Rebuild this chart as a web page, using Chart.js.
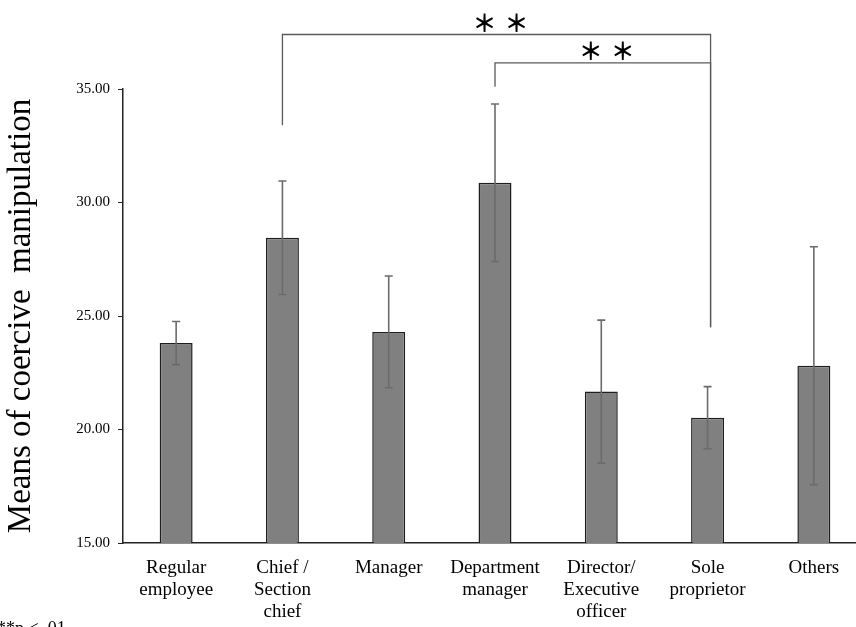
<!DOCTYPE html>
<html>
<head>
<meta charset="utf-8">
<script src="https://cdn.jsdelivr.net/npm/chart.js@4/dist/chart.umd.min.js"></script>
<style>
  html, body { margin: 0; padding: 0; background: #fff; overflow: hidden; }
  #wrap { width: 870px; height: 627px; position: relative; }
</style>
</head>
<body>
<div id="wrap"><canvas id="c" width="870" height="627"></canvas></div>
<script>
// Job position categories (multi-line axis labels)
const categories = [
  ["Regular", "employee"],
  ["Chief /", "Section", "chief"],
  ["Manager"],
  ["Department", "manager"],
  ["Director/", "Executive", "officer"],
  ["Sole", "proprietor"],
  ["Others"]
];
// Mean score of coercive manipulation per category
const means = [23.81, 28.45, 24.30, 30.87, 21.67, 20.52, 22.81];
// Standard deviation shown as error bars
const sds = [0.95, 2.50, 2.46, 3.47, 3.15, 1.37, 5.24];
// Y axis range and tick step
const yMin = 15, yMax = 35, yStep = 5;
// Significance brackets: from category, to category, bracket level,
// lower end of each leg (in axis units) and the significance mark
const bracketFrom = [1, 3];
const bracketTo = [5, 5];
const bracketLevel = [37.4, 36.15];
const bracketFromEnd = [33.4, 35.1];
const bracketToEnd = [24.5, 24.5];
const bracketMark = ["＊", "＊"];
const footnote = "**p < .01";

const SERIF = '"Liberation Serif", "Times New Roman", serif';

const errorBars = {
  id: 'errorBars',
  afterDatasetsDraw(chart) {
    const { ctx, scales: { x, y } } = chart;
    ctx.save();
    ctx.strokeStyle = '#6b6b6b';
    ctx.lineWidth = 1.6;
    means.forEach((m, i) => {
      const cx = x.getPixelForValue(i);
      const top = y.getPixelForValue(m + sds[i]);
      const bot = y.getPixelForValue(m - sds[i]);
      ctx.beginPath();
      ctx.moveTo(cx, top); ctx.lineTo(cx, bot);
      ctx.moveTo(cx - 4, top); ctx.lineTo(cx + 4, top);
      ctx.moveTo(cx - 4, bot); ctx.lineTo(cx + 4, bot);
      ctx.stroke();
    });
    ctx.restore();
  }
};

const brackets = {
  id: 'brackets',
  afterDraw(chart) {
    const { ctx, scales: { x, y } } = chart;
    ctx.save();
    ctx.strokeStyle = '#5a5a5a';
    ctx.lineWidth = 1.3;
    bracketFrom.forEach((f, k) => {
      const x1 = x.getPixelForValue(f);
      const x2 = x.getPixelForValue(bracketTo[k]) + 3;
      const yl = y.getPixelForValue(bracketLevel[k]);
      const y1 = y.getPixelForValue(bracketFromEnd[k]);
      const y2 = y.getPixelForValue(bracketToEnd[k]);
      ctx.beginPath();
      ctx.moveTo(x1, y1); ctx.lineTo(x1, yl); ctx.lineTo(x2, yl); ctx.lineTo(x2, y2);
      ctx.stroke();
      // significance mark: two stars above the bracket
      const mid = (x1 + x2) / 2 + 4;
      ctx.fillStyle = '#000';
      ctx.font = 'bold 24px "Noto Sans CJK JP", sans-serif';
      ctx.textAlign = 'center';
      ctx.textBaseline = 'middle';
      ctx.fillText(bracketMark[k], mid - 16, yl - 12);
      ctx.fillText(bracketMark[k], mid + 16, yl - 12);
    });
    // footnote at the lower left
    ctx.font = '18px ' + SERIF;
    ctx.textAlign = 'left';
    ctx.textBaseline = 'alphabetic';
    ctx.fillText(footnote, -3, 634);
    ctx.restore();
  }
};

new Chart(document.getElementById('c'), {
  type: 'bar',
  data: {
    labels: categories,
    datasets: [{
      data: means,
      backgroundColor: '#808080',
      borderColor: '#1e1e1e',
      borderWidth: 1.5,
      barPercentage: 0.31,
      categoryPercentage: 1.0
    }]
  },
  options: {
    responsive: false,
    animation: false,
    events: [],
    layout: { padding: { top: 89, right: 3, left: 0, bottom: 0 } },
    plugins: { legend: { display: false }, tooltip: { enabled: false } },
    scales: {
      x: {
        grid: { display: true, drawOnChartArea: false, drawTicks: false },
        border: { display: true, color: '#222', width: 1.5 },
        ticks: {
          color: '#000',
          font: { family: SERIF, size: 19, lineHeight: '22px' },
          padding: 14,
          maxRotation: 0,
          autoSkip: false
        },
        afterFit(scale) { scale.height = 84; }
      },
      y: {
        min: yMin,
        max: yMax,
        grid: { display: true, drawOnChartArea: false, drawTicks: true, tickLength: 5, color: '#222' },
        border: { display: true, color: '#222', width: 1.5 },
        ticks: {
          stepSize: yStep,
          color: '#000',
          font: { family: SERIF, size: 15 },
          padding: 8,
          callback: v => Number(v).toFixed(2)
        },
        title: {
          display: true,
          text: 'Means of coercive  manipulation',
          color: '#000',
          font: { family: SERIF, size: 33 },
          padding: { top: 2, bottom: 0 }
        },
        afterFit(scale) { scale.width = 123; }
      }
    }
  },
  plugins: [errorBars, brackets]
});
</script>
</body>
</html>
